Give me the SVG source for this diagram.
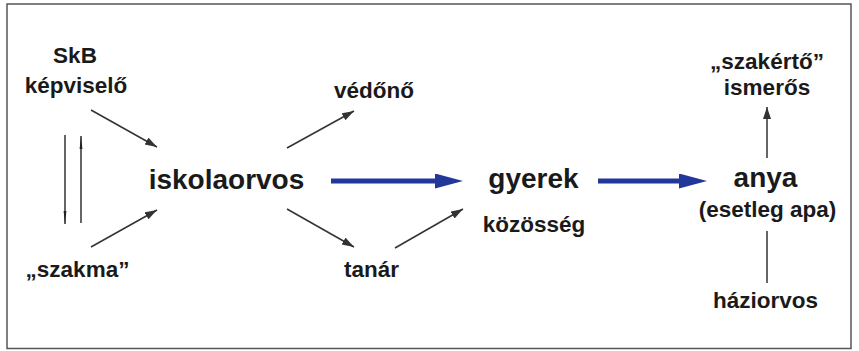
<svg xmlns="http://www.w3.org/2000/svg" width="859" height="351" viewBox="0 0 859 351">
  <defs>
    <style>
      .t { font-family: "Liberation Sans", Arial, Helvetica, sans-serif; font-weight: bold; fill: #1a1a1a; text-anchor: middle; }
      .big { font-size: 28px; }
      .mid { font-size: 22.5px; }
      .ln { stroke: #333; stroke-width: 1.5; fill: none; }
      .blue { stroke: #22379a; stroke-width: 5; fill: none; }
    </style>
    <marker id="ah" markerUnits="userSpaceOnUse" markerWidth="13" markerHeight="9" refX="12" refY="4" orient="auto">
      <path d="M0,0 L12,4 L0,8 z" fill="#333"/>
    </marker>
    <marker id="slim" markerUnits="userSpaceOnUse" markerWidth="14" markerHeight="5" refX="13" refY="2" orient="auto">
      <path d="M0,0.6 L13,2 L0,3.4 z" fill="#222"/>
    </marker>
    <marker id="bh" markerUnits="userSpaceOnUse" markerWidth="29" markerHeight="16" refX="0" refY="7.5" orient="auto">
      <path d="M0,0 L28,7.5 L0,15 z" fill="#22379a"/>
    </marker>
  </defs>
  <rect x="0" y="0" width="859" height="351" fill="#ffffff"/>
  <rect x="7" y="4" width="844" height="344.5" fill="none" stroke="#555" stroke-width="1.5"/>

  <g id="connectors">
    <line class="ln" x1="91" y1="110" x2="157" y2="147" marker-end="url(#ah)"/>
    <line class="ln" x1="91" y1="247" x2="157" y2="210" marker-end="url(#ah)"/>
    <line class="ln" x1="65" y1="135" x2="65" y2="224" marker-end="url(#slim)"/>
    <line class="ln" x1="81" y1="223" x2="81" y2="136" marker-end="url(#slim)"/>
    <line class="ln" x1="287" y1="148" x2="354" y2="111" marker-end="url(#ah)"/>
    <line class="ln" x1="287" y1="209" x2="354" y2="247" marker-end="url(#ah)"/>
    <line class="ln" x1="395" y1="248" x2="463" y2="209" marker-end="url(#ah)"/>
    <line class="blue" x1="331" y1="181" x2="435" y2="181" marker-end="url(#bh)"/>
    <line class="blue" x1="598" y1="181" x2="679" y2="181" marker-end="url(#bh)"/>
    <line class="ln" x1="767" y1="158" x2="767" y2="107" marker-end="url(#ah)"/>
    <line class="ln" x1="767" y1="231" x2="767" y2="283"/>
  </g>

  <g id="skb">
    <text class="t mid" x="75" y="63">SkB</text>
    <text class="t mid" x="76" y="93">képviselő</text>
  </g>
  <g id="szakma">
    <text class="t mid" x="77.5" y="277">„szakma”</text>
  </g>
  <g id="iskolaorvos">
    <text class="t big" x="226.5" y="189">iskolaorvos</text>
  </g>
  <g id="vedono">
    <text class="t mid" x="374" y="98">védőnő</text>
  </g>
  <g id="tanar">
    <text class="t mid" x="371.5" y="277">tanár</text>
  </g>
  <g id="gyerek">
    <text class="t big" x="533.5" y="188">gyerek</text>
    <text class="t mid" x="534" y="232">közösség</text>
  </g>
  <g id="anya">
    <text class="t big" x="765.5" y="187">anya</text>
    <text class="t mid" x="767.5" y="217">(esetleg apa)</text>
  </g>
  <g id="szakerto">
    <text class="t mid" x="767" y="69">„szakértő”</text>
    <text class="t mid" x="767" y="95">ismerős</text>
  </g>
  <g id="haziorvos">
    <text class="t mid" x="765.5" y="308">háziorvos</text>
  </g>
</svg>
